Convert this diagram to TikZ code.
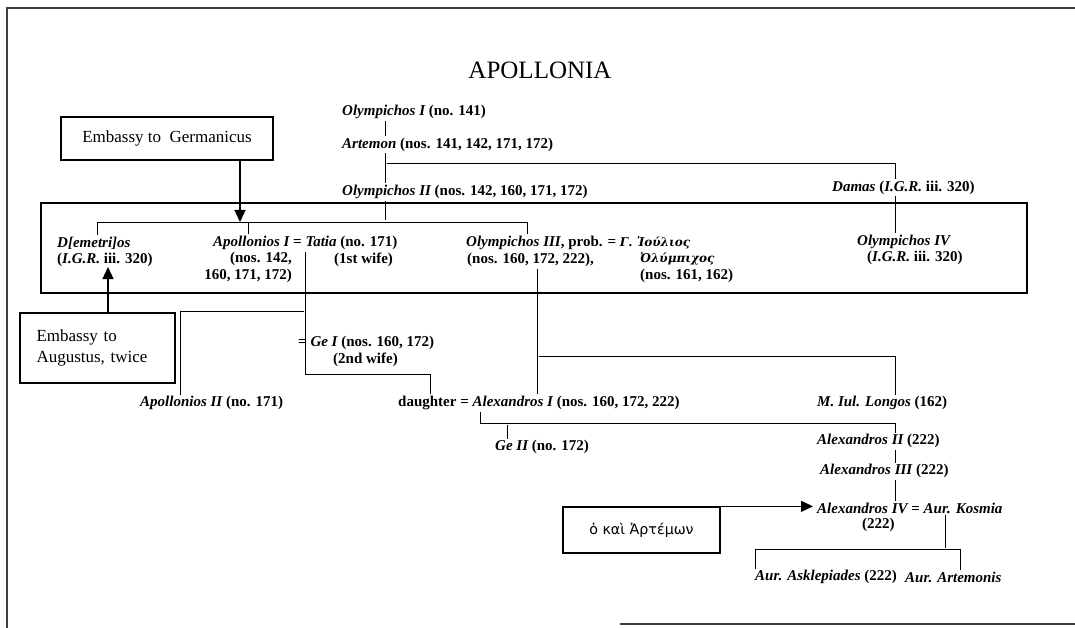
\documentclass[tikz,border=0pt]{standalone}
\usepackage{fontspec}
\setmainfont{Liberation Serif}
\newfontfamily\grkserif[Scale=0.8]{DejaVu Serif}
\newfontfamily\grksans[Scale=0.95]{DejaVu Sans}
\usepackage{tikz}
\usetikzlibrary{arrows.meta,positioning}

\newcommand\pfont{\fontsize{15}{17}\selectfont\bfseries}
\newcommand\pers[1]{{\itshape #1}}

\begin{document}
\begin{tikzpicture}[x=1pt,y=-1pt]
	\tikzset{person/.style={anchor=west,inner sep=0pt,font=\pfont},
		embassy/.style={draw,line width=1.3pt,inner sep=0pt,font=\fontsize{17}{21}\selectfont},
		tie/.style={line width=0.7pt,shorten <=1.5pt,shorten >=1.5pt},
		pointer/.style={line width=1.3pt,-{Triangle[length=12pt,width=11pt]}},
		frame/.style={line width=1.4pt,black!75}}
	\useasboundingbox (0,0) rectangle (1075,628);
	\draw[frame] (1075,8) -- (7,8) -- (7,628);
	\draw[frame] (620,624) -- (1075,624);
	\node[font=\fontsize{25}{25}\selectfont] (title) at (540,70) {APOLLONIA};
	\coordinate (tA) at (385,0);
	\coordinate (tD) at (895,0);
	\coordinate (tDem) at (97,0);
	\coordinate (tApo) at (248,0);
	\coordinate (tO3) at (527,0);
	\coordinate (tO3b) at (537,0);
	\coordinate (tApoL) at (305,0);
	\coordinate (tApo2) at (180,0);
	\coordinate (tDau) at (430,0);
	\coordinate (tAlx) at (480,0);
	\coordinate (tGe2) at (507,0);
	\coordinate (tKos) at (945,0);
	\coordinate (tAsk) at (755,0);
	\coordinate (tArt) at (960,0);
	\coordinate (tEG) at (240,0);
	\coordinate (tEA) at (108,0);
	\coordinate (jA) at (385,163);
	\coordinate (jB) at (385,222);
	\coordinate (jC) at (305,311);
	\coordinate (jE) at (305,374);
	\coordinate (jF) at (537,356);
	\coordinate (jG) at (480,423);
	\coordinate (jH) at (945,549);
	\coordinate (boxnw) at (41,203);
	\coordinate (boxse) at (1027,293);
	\node[person] (ol1) at (342,112) {\pers{Olympichos I} (no. 141)};
	\node[person] (art) at (342,145) {\pers{Artemon} (nos. 141, 142, 171, 172)};
	\node[person] (ol2) at (342,192) {\pers{Olympichos II} (nos. 142, 160, 171, 172)};
	\node[person] (dam) at (832,188) {\pers{Damas} (\pers{I.G.R.} iii. 320)};
	\node[person] (dem) at (57,243) {\pers{D[emetri]os}};
	\node[person] (demref) at (57,260) {(\pers{I.G.R.} iii. 320)};
	\node[person] (apo1) at (213,243) {\pers{Apollonios I} = \pers{Tatia} (no. 171)};
	\node[person,anchor=north east,align=right] (apo1ref) at (292,252) {(nos. 142,\\160, 171, 172)};
	\node[person] (wife1) at (334,260) {(1st wife)};
	\node[person] (ol3) at (466,243) {\pers{Olympichos III}, prob. = {\grkserif\itshape Γ. Ἰούλιος}};
	\node[person] (ol3ref) at (467,260) {(nos. 160, 172, 222),};
	\node[person,anchor=north west,align=left] (julref) at (640,252) {{\grkserif\itshape Ὀλύμπιχος}\\(nos. 161, 162)};
	\node[person] (ol4) at (857,242) {\pers{Olympichos IV}};
	\node[person] (ol4ref) at (867,258) {(\pers{I.G.R.} iii. 320)};
	\node[person] (ge1) at (298,343) {= \pers{Ge I} (nos. 160, 172)};
	\node[person] (wife2) at (333,360) {(2nd wife)};
	\node[person] (apo2) at (140,403) {\pers{Apollonios II} (no. 171)};
	\node[person] (alx1) at (398,403) {daughter = \pers{Alexandros I} (nos. 160, 172, 222)};
	\node[person] (lon) at (817,403) {\pers{M. Iul. Longos} (162)};
	\node[person] (ge2) at (495,447) {\pers{Ge II} (no. 172)};
	\node[person] (alx2) at (817,441) {\pers{Alexandros II} (222)};
	\node[person] (alx3) at (820,471) {\pers{Alexandros III} (222)};
	\node[person] (alx4) at (817,508) {\pers{Alexandros IV} = \pers{Aur. Kosmia}};
	\node[person] (alx4ref) at (862,525) {(222)};
	\node[person] (ask) at (755,577) {\pers{Aur. Asklepiades} (222)};
	\node[person] (artm) at (905,577) {\pers{Aur. Artemonis}};
	\node[embassy,minimum width=212,minimum height=43] (emG) at (167,138.5) {Embassy to\ \ Germanicus};
	\node[embassy,minimum width=155,minimum height=70,text width=122,align=left] (emA) at (97.5,348) {Embassy to\\Augustus, twice};
	\node[embassy,minimum width=157,minimum height=46] (emK) at (641.5,530) {\grksans\fontsize{15}{18}\selectfont ὁ καὶ Ἀρτέμων};
	\draw[line width=1.1pt] (boxnw) rectangle (boxse);
	\draw[tie] (ol1.south -| tA) -- (art.north -| tA);
	\draw[tie] (art.south -| tA) -- (ol2.north -| tA);
	\draw[tie] (jA) -| (dam.north -| tD);
	\draw[tie] (ol2.south -| tA) -- (jB);
	\draw[tie] (dem.north -| tDem) -- (tDem |- jB) -- (tO3 |- jB) -- (ol3.north -| tO3);
	\draw[tie] (apo1.north -| tApo) -- (tApo |- jB);
	\draw[tie] (dam.south -| tD) -- (ol4.north -| tD);
	\draw[tie] (apo1.south -| tApoL) -- (jE) -| (alx1.north -| tDau);
	\draw[tie] (jC) -| (apo2.north -| tApo2);
	\draw[tie] (ol3ref.south -| tO3b) -- (alx1.north -| tO3b);
	\draw[tie] (jF) -| (lon.north -| tD);
	\draw[tie] (alx1.south -| tAlx) -- (jG) -| (alx2.north -| tD);
	\draw[tie] (tGe2 |- jG) -- (ge2.north -| tGe2);
	\draw[tie] (alx2.south -| tD) -- (alx3.north -| tD);
	\draw[tie] (alx3.south -| tD) -- (alx4.north -| tD);
	\draw[tie] (alx4.south -| tKos) -- (jH);
	\draw[tie] (ask.north -| tAsk) -- (tAsk |- jH) -- (tArt |- jH) -- (artm.north -| tArt);
	\draw[pointer] (emG.south -| tEG) -- (jB -| tEG);
	\draw[pointer] (emA.north -| tEA) -- (demref.south -| tEA);
	\draw[pointer,shorten >=4pt] (emK.north east) -- (emK.north east -| alx4.west);
\end{tikzpicture}
\end{document}
